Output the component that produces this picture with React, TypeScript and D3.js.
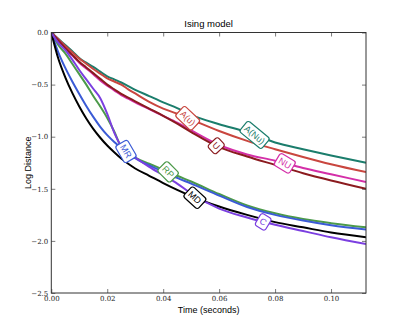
import React, { useEffect, useRef } from 'react';
import * as d3 from 'd3';

// sample times (seconds)
const times = [0, 0.0025, 0.005, 0.0075, 0.01, 0.0125, 0.015, 0.0175, 0.02, 0.0225, 0.025, 0.0275, 0.03, 0.035, 0.04, 0.045, 0.05, 0.06, 0.07, 0.08, 0.09, 0.1, 0.1125];

const aNu = [0, -0.06, -0.12, -0.18, -0.245, -0.29, -0.33, -0.375, -0.42, -0.45, -0.48, -0.515, -0.55, -0.61, -0.67, -0.725, -0.79, -0.88, -0.955, -1.055, -1.12, -1.18, -1.25];
const aU = [0, -0.065, -0.13, -0.19, -0.25, -0.3, -0.35, -0.395, -0.44, -0.47, -0.5, -0.545, -0.585, -0.665, -0.73, -0.78, -0.835, -0.945, -1.04, -1.12, -1.195, -1.265, -1.34];
const nu = [0, -0.075, -0.15, -0.22, -0.29, -0.345, -0.4, -0.46, -0.51, -0.555, -0.6, -0.635, -0.67, -0.735, -0.8, -0.865, -0.94, -1.08, -1.17, -1.23, -1.3, -1.36, -1.435];
const u = [0, -0.075, -0.15, -0.215, -0.28, -0.335, -0.39, -0.445, -0.5, -0.545, -0.59, -0.625, -0.66, -0.73, -0.8, -0.875, -0.955, -1.1, -1.19, -1.27, -1.35, -1.42, -1.5];
const rp = [0, -0.12, -0.2, -0.3, -0.4, -0.5, -0.61, -0.71, -0.82, -0.95, -1.1, -1.155, -1.2, -1.26, -1.315, -1.375, -1.43, -1.55, -1.66, -1.735, -1.79, -1.83, -1.87];
const mr = [0, -0.19, -0.34, -0.47, -0.59, -0.705, -0.81, -0.905, -0.985, -1.05, -1.105, -1.155, -1.205, -1.275, -1.335, -1.395, -1.45, -1.565, -1.675, -1.75, -1.805, -1.85, -1.89];
const md = [0, -0.25, -0.43, -0.58, -0.71, -0.825, -0.925, -1.01, -1.085, -1.15, -1.21, -1.26, -1.305, -1.375, -1.445, -1.51, -1.57, -1.67, -1.75, -1.82, -1.87, -1.92, -1.965];
const c = [0, -0.1, -0.17, -0.26, -0.36, -0.45, -0.54, -0.63, -0.78, -0.96, -1.09, -1.15, -1.2, -1.29, -1.37, -1.45, -1.545, -1.69, -1.775, -1.845, -1.905, -1.965, -2.03];

const names = ['A(Nu)', 'A(u)', 'NU', 'U', 'RP', 'MR', 'MD', 'C'];
const seriesValues = [aNu, aU, nu, u, rp, mr, md, c];
const colors = ['#1b7d6c', '#c9463f', '#d42fa8', '#8b1b1f', '#4c9a4a', '#3b5bd6', '#000000', '#7b3fe0'];
// time at which each inline label sits
const labelTimes = [0.0727, 0.0488, 0.0835, 0.059, 0.0418, 0.0267, 0.0513, 0.0757];

const xTicks = [0, 0.02, 0.04, 0.06, 0.08, 0.1];
const yTicks = [0, -0.5, -1, -1.5, -2, -2.5];

const W = 407;
const H = 326;

const App = () => {
  const ref = useRef<SVGSVGElement>(null);

  useEffect(() => {
    const margin = { top: 32.5, right: 41, bottom: 33, left: 51.3 };
    const width = W - margin.left - margin.right;
    const height = H - margin.top - margin.bottom;

    const svg = d3.select(ref.current);
    svg.selectAll('*').remove();

    const x = d3.scaleLinear().domain([0, 0.1125]).range([0, width]);
    const y = d3.scaleLinear().domain([-2.5, 0]).range([height, 0]);

    const g = svg.append('g').attr('transform', `translate(${margin.left},${margin.top})`);

    const line = d3
      .line<number>()
      .x((d, i) => x(times[i]))
      .y((d) => y(d))
      .curve(d3.curveMonotoneX);

    g.append('defs').append('clipPath').attr('id', 'clip')
      .append('rect').attr('width', width).attr('height', height);

    const lines = g.append('g').attr('clip-path', 'url(#clip)');
    seriesValues.forEach((vals, i) => {
      lines.append('path')
        .attr('d', line(vals))
        .attr('fill', 'none')
        .attr('stroke', colors[i])
        .attr('stroke-width', 2)
        .attr('stroke-linejoin', 'round');
    });

    // frame + inward ticks on all sides
    const fmt = (d: number) => d3.format('.2f')(d);
    const fmtY = (d: number) => d3.format('.1f')(d).replace('-', '\u2212');
    const axisStyle = (sel: any) => {
      sel.select('.domain').remove();
      sel.selectAll('.tick line').attr('stroke', '#222').attr('stroke-width', 0.6);
      sel.selectAll('.tick text').attr('font-family', 'DejaVu Serif, serif').attr('font-size', 7).attr('fill', '#222');
    };
    g.append('g').attr('transform', `translate(0,${height})`)
      .call(d3.axisBottom(x).tickValues(xTicks).tickSize(-4).tickPadding(3).tickFormat(fmt as any))
      .call(axisStyle);
    g.append('g')
      .call(d3.axisTop(x).tickValues(xTicks).tickSize(-4).tickFormat(() => ''))
      .call(axisStyle);
    g.append('g')
      .call(d3.axisLeft(y).tickValues(yTicks).tickSize(-4).tickPadding(3).tickFormat(fmtY as any))
      .call(axisStyle);
    g.append('g').attr('transform', `translate(${width},0)`)
      .call(d3.axisRight(y).tickValues(yTicks).tickSize(-4).tickFormat(() => ''))
      .call(axisStyle);
    g.append('rect').attr('width', width).attr('height', height)
      .attr('fill', 'none').attr('stroke', '#333').attr('stroke-width', 1);

    // inline labels
    labelTimes.forEach((t, i) => {
      const vals = seriesValues[i];
      const interp = d3.scaleLinear().domain(times).range(vals);
      const lx = x(t);
      const ly = y(interp(t));
      const dt = 0.004;
      const slope = (y(interp(t + dt)) - y(interp(t - dt))) / (x(t + dt) - x(t - dt));
      const angle = (Math.atan(slope * 2.3) * 180) / Math.PI;
      const lg = g.append('g').attr('transform', `translate(${lx},${ly}) rotate(${angle})`);
      const rect = lg.append('rect');
      const txt = lg.append('text')
        .attr('text-anchor', 'middle')
        .attr('dy', '0.35em')
        .attr('font-family', 'Liberation Sans, Arial, sans-serif')
        .attr('font-size', 9)
        .attr('fill', colors[i])
        .text(names[i]);
      const bb = (txt.node() as SVGTextElement).getBBox();
      const pad = 2.5;
      rect.attr('x', bb.x - pad).attr('y', bb.y - pad + 0.5)
        .attr('width', bb.width + pad * 2).attr('height', bb.height + pad * 2 - 1)
        .attr('rx', 2.5)
        .attr('fill', 'white')
        .attr('stroke', colors[i])
        .attr('stroke-width', 1.2);
    });

    svg.append('text')
      .attr('x', margin.left + width / 2).attr('y', 27)
      .attr('text-anchor', 'middle')
      .attr('font-family', 'Liberation Sans, Arial, sans-serif')
      .attr('font-size', 9.5)
      .text('Ising model');
    svg.append('text')
      .attr('x', margin.left + width / 2).attr('y', 313)
      .attr('text-anchor', 'middle')
      .attr('font-family', 'Liberation Sans, Arial, sans-serif')
      .attr('font-size', 9)
      .text('Time (seconds)');
    svg.append('text')
      .attr('transform', `translate(31,${margin.top + height / 2}) rotate(-90)`)
      .attr('text-anchor', 'middle')
      .attr('font-family', 'Liberation Sans, Arial, sans-serif')
      .attr('font-size', 9)
      .text('Log Distance');
  }, []);

  return (
    <svg
      ref={ref}
      width={W}
      height={H}
      style={{ position: 'absolute', left: 0, top: 0, background: 'white' }}
    />
  );
};

export default App;
